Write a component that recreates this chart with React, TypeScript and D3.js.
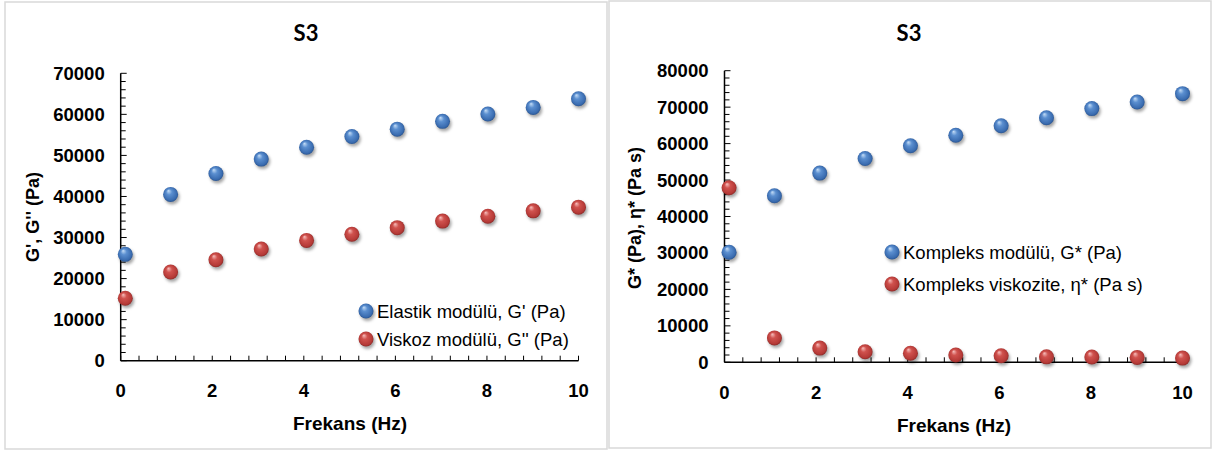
import React from "react";
import * as d3 from "d3";

const frequency = [0.1, 1.09, 2.08, 3.07, 4.06, 5.05, 6.04, 7.03, 8.02, 9.01, 10];
const elasticModulus = [25900, 40500, 45600, 49100, 52000, 54600, 56400, 58300, 60100, 61700, 63800];
const viscousModulus = [15200, 21600, 24600, 27200, 29300, 30800, 32400, 34000, 35200, 36500, 37400];
const complexModulus = [30200, 45700, 51900, 55900, 59400, 62300, 64900, 67100, 69600, 71400, 73700];
const complexViscosity = [47900, 6700, 3900, 2900, 2500, 2000, 1800, 1500, 1450, 1350, 1150];

const xTicks = [0, 2, 4, 6, 8, 10];
const leftYTicks = [0, 10000, 20000, 30000, 40000, 50000, 60000, 70000];
const rightYTicks = [0, 10000, 20000, 30000, 40000, 50000, 60000, 70000, 80000];

const title = "S3";
const xTitle = "Frekans (Hz)";
const leftYTitle = "G', G'' (Pa)";
const rightYTitle = "G* (Pa), η* (Pa s)";
const leftLegend = ["Elastik modülü, G' (Pa)", "Viskoz modülü, G'' (Pa)"];
const rightLegend = ["Kompleks modülü, G* (Pa)", "Kompleks viskozite, η* (Pa s)"];

const FONT = "'Liberation Sans', Arial, sans-serif";

function Sphere({ cx, cy, color }: { cx: number; cy: number; color: "blue" | "red" }) {
  return (
    <g>
      <circle cx={cx + 1.5} cy={cy + 2.5} r={7.5} fill="rgba(0,0,0,0.35)" filter="url(#shBlur)" />
      <circle cx={cx} cy={cy} r={7.5} fill={`url(#grad-${color})`} />
    </g>
  );
}

type PanelProps = {
  box: [number, number, number, number];
  xRange: [number, number];
  yRange: [number, number];
  yMax: number;
  yTicks: number[];
  titleX: number;
  xTitlePos: [number, number];
  yTitlePos: [number, number];
  yTitle: string;
  series: { values: number[]; color: "blue" | "red" }[];
  legend: string[];
  legendX: number;
  legendY: number[];
};

function Panel(p: PanelProps) {
  const x = d3.scaleLinear().domain([0, 10]).range(p.xRange);
  const y = d3.scaleLinear().domain([0, p.yMax]).range(p.yRange);
  const xMinor = d3.range(0, 10.001, 0.4);
  const yMinor = d3.range(0, p.yMax + 1, 2000);
  const [bx, by, bw, bh] = p.box;
  return (
    <g>
      <rect x={bx} y={by} width={bw} height={bh} fill="#fff" stroke="#d9d9d9" strokeWidth={1.5} />
      <text x={p.titleX} y={41} textAnchor="middle" fontFamily="Lato, 'Open Sans', sans-serif" fontWeight="bold" fontSize={22} fill="#000">
        {title}
      </text>
      {/* axes */}
      <line x1={p.xRange[0]} x2={p.xRange[0]} y1={y(0)} y2={y(p.yMax)} stroke="#000" strokeWidth={1.5} />
      <line x1={p.xRange[0]} x2={p.xRange[1]} y1={y(0)} y2={y(0)} stroke="#000" strokeWidth={1.5} />
      {yMinor.map((v) => (
        <line key={"ym" + v} x1={p.xRange[0]} x2={p.xRange[0] + (v % 10000 === 0 ? 6 : 5)} y1={y(v)} y2={y(v)} stroke="#000" strokeWidth={1} />
      ))}
      {xMinor.map((v) => (
        <line key={"xm" + v} x1={x(v)} x2={x(v)} y1={y(0)} y2={y(0) - 5} stroke="#000" strokeWidth={1} />
      ))}
      {p.yTicks.map((v) => (
        <text key={"yl" + v} x={p.xRange[0] - 16} y={y(v) + 6.5} textAnchor="end" fontFamily={FONT} fontWeight="bold" fontSize={18.5} fill="#000">
          {v}
        </text>
      ))}
      {xTicks.map((v) => (
        <text key={"xl" + v} x={x(v)} y={y(0) + 36.5} textAnchor="middle" fontFamily={FONT} fontWeight="bold" fontSize={18.5} fill="#000">
          {v}
        </text>
      ))}
      <text x={p.xTitlePos[0]} y={p.xTitlePos[1]} textAnchor="middle" fontFamily={FONT} fontWeight="bold" fontSize={19} fill="#000">
        {xTitle}
      </text>
      <text
        transform={`translate(${p.yTitlePos[0]},${p.yTitlePos[1]}) rotate(-90)`}
        textAnchor="middle"
        fontFamily={FONT}
        fontWeight="bold"
        fontSize={18}
        fill="#000"
      >
        {p.yTitle}
      </text>
      {p.series.map((s, si) =>
        s.values.map((v, i) => <Sphere key={si + "-" + i} cx={x(frequency[i])} cy={y(v)} color={s.color} />)
      )}
      {p.legend.map((label, i) => (
        <g key={"lg" + i}>
          <Sphere cx={p.legendX} cy={p.legendY[i]} color={p.series[i].color} />
          <text x={p.legendX + 11} y={p.legendY[i] + 6.5} fontFamily={FONT} fontSize={18.5} fill="#000">
            {label}
          </text>
        </g>
      ))}
    </g>
  );
}

export default function App() {
  return (
    <div style={{ position: "absolute", left: 0, top: 0 }}>
      <svg width={1212} height={450} viewBox="0 0 1212 450" style={{ display: "block" }}>
        <defs>
          <filter id="shBlur" x="-50%" y="-50%" width="200%" height="200%">
            <feGaussianBlur stdDeviation={1.6} />
          </filter>
          <radialGradient id="grad-blue" cx="0.5" cy="0.5" r="0.55" fx="0.35" fy="0.25">
            <stop offset="0" stopColor="#c6def7" />
            <stop offset="0.35" stopColor="#5b8fd0" />
            <stop offset="0.8" stopColor="#3a6cb0" />
            <stop offset="1" stopColor="#244c85" />
          </radialGradient>
          <radialGradient id="grad-red" cx="0.5" cy="0.5" r="0.55" fx="0.35" fy="0.25">
            <stop offset="0" stopColor="#f7c0be" />
            <stop offset="0.35" stopColor="#d0524e" />
            <stop offset="0.8" stopColor="#b53a37" />
            <stop offset="1" stopColor="#7e2422" />
          </radialGradient>
        </defs>
        <rect x={0} y={0} width={1212} height={450} fill="#fff" />
        <Panel
          box={[5, 2, 602, 447]}
          xRange={[120.7, 578.5]}
          yRange={[360.7, 73.3]}
          yMax={70000}
          yTicks={leftYTicks}
          titleX={306}
          xTitlePos={[350, 430]}
          yTitlePos={[39, 217]}
          yTitle={leftYTitle}
          series={[
            { values: elasticModulus, color: "blue" },
            { values: viscousModulus, color: "red" },
          ]}
          legend={leftLegend}
          legendX={366}
          legendY={[311, 339]}
        />
        <Panel
          box={[609, 1, 602, 447]}
          xRange={[724.5, 1182.5]}
          yRange={[362.3, 70.7]}
          yMax={80000}
          yTicks={rightYTicks}
          titleX={909}
          xTitlePos={[954, 432]}
          yTitlePos={[641, 218]}
          yTitle={rightYTitle}
          series={[
            { values: complexModulus, color: "blue" },
            { values: complexViscosity, color: "red" },
          ]}
          legend={rightLegend}
          legendX={892}
          legendY={[252, 284]}
        />
      </svg>
    </div>
  );
}
